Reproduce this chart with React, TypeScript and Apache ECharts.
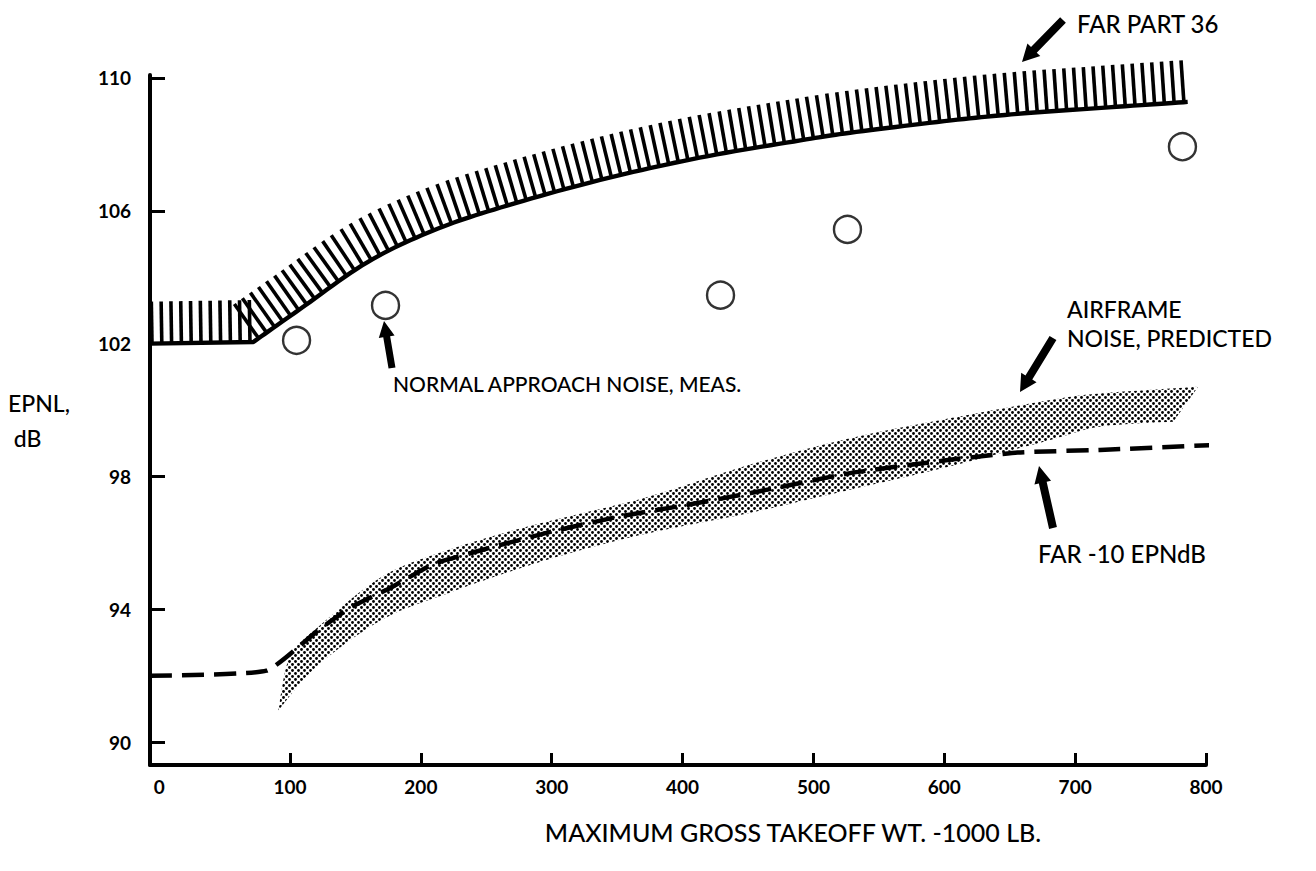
import React, { useEffect, useRef } from "react";
import * as echarts from "echarts";

// ---------- data ----------
const xTickValues = [0, 100, 200, 300, 400, 500, 600, 700, 800];
const xMinorTicks = [100, 200, 300, 400, 500, 600, 700, 800];
const yTickValues = [90, 94, 98, 102, 106, 110];

// FAR Part 36 limit (lower edge of the hatched band)
const farPart36X = [-7, 72, 108, 159, 209, 261, 337, 413, 490, 528, 600, 656, 720, 786];
const farPart36Y = [102, 102.05, 103.05, 104.45, 105.4, 106.1, 106.93, 107.6, 108.12, 108.35, 108.7, 108.92, 109.1, 109.28];

// FAR -10 EPNdB (dashed)
const far10X = [-7, 82, 121, 146, 177, 209, 248, 299, 350, 400, 452, 528, 604, 656, 719, 808];
const far10Y = [92, 92.15, 93.35, 94.05, 94.65, 95.35, 95.8, 96.33, 96.78, 97.12, 97.5, 98.1, 98.5, 98.72, 98.8, 98.95];

// Airframe noise, predicted (dotted band)
const bandUpperX = [91, 100, 121, 171, 222, 273, 324, 375, 451, 528, 604, 681, 719, 794];
const bandUpperY = [90.95, 92.6, 93.45, 95.0, 95.8, 96.4, 96.9, 97.4, 98.35, 99.15, 99.75, 100.3, 100.5, 100.7];
const bandLowerX = [91, 121, 171, 222, 273, 324, 375, 451, 528, 604, 681, 719, 775];
const bandLowerY = [90.95, 92.3, 93.7, 94.5, 95.2, 95.8, 96.3, 96.9, 97.6, 98.3, 99.1, 99.5, 99.65];

// Normal approach noise, measured
const measX = [105, 173, 429, 526, 782];
const measY = [102.1, 103.15, 103.46, 105.44, 107.93];

// ---------- helpers ----------
function catmull(pts: number[][], segs: number): number[][] {
  const out: number[][] = [];
  for (let i = 0; i < pts.length - 1; i++) {
    const p0 = pts[Math.max(0, i - 1)];
    const p1 = pts[i];
    const p2 = pts[i + 1];
    const p3 = pts[Math.min(pts.length - 1, i + 2)];
    for (let s = 0; s < segs; s++) {
      const t = s / segs;
      const t2 = t * t;
      const t3 = t2 * t;
      const f = (k: number) =>
        0.5 *
        (2 * p1[k] +
          (-p0[k] + p2[k]) * t +
          (2 * p0[k] - 5 * p1[k] + 4 * p2[k] - p3[k]) * t2 +
          (-p0[k] + 3 * p1[k] - 3 * p2[k] + p3[k]) * t3);
      out.push([f(0), f(1)]);
    }
  }
  out.push(pts[pts.length - 1]);
  return out;
}

function renderFar(params: any, api: any) {
  if (params.dataIndex !== 0) return null;
  const px = farPart36X.map((x, i) => api.coord([x, farPart36Y[i]]));
  const curve = [px[0]].concat(catmull(px.slice(1), 12));
  const children: any[] = [];
  children.push({
    type: "polyline",
    shape: { points: curve },
    style: { stroke: "#000", lineWidth: 4.4, fill: null, lineJoin: "round" },
  });
  const spacing = 9.8;
  const hatchLen = 42;
  let next = 2;
  let acc = 0;
  for (let i = 0; i < curve.length - 1; i++) {
    const a = curve[i];
    const b = curve[i + 1];
    const dx = b[0] - a[0];
    const dy = b[1] - a[1];
    const len = Math.hypot(dx, dy);
    if (len === 0) continue;
    const tx = dx / len;
    const ty = dy / len;
    const nx = ty;
    const ny = -tx;
    while (next <= acc + len) {
      const u = (next - acc) / len;
      const x = a[0] + dx * u;
      const y = a[1] + dy * u;
      children.push({
        type: "line",
        shape: { x1: x, y1: y, x2: x + nx * hatchLen, y2: y + ny * hatchLen },
        style: { stroke: "#000", lineWidth: 3.6 },
      });
      next += spacing;
    }
    acc += len;
  }
  return { type: "group", children };
}

function dotPattern() {
  const c = document.createElement("canvas");
  c.width = 6;
  c.height = 6;
  const ctx = c.getContext("2d");
  if (ctx) {
    ctx.fillStyle = "#000";
    [
      [1.5, 1.5],
      [4.5, 4.5],
    ].forEach(([x, y]) => {
      ctx.beginPath();
      ctx.arc(x, y, 1.4, 0, Math.PI * 2);
      ctx.fill();
    });
  }
  return { image: c.toDataURL(), repeat: "repeat", imageWidth: 6, imageHeight: 6 };
}

function renderBand(params: any, api: any) {
  if (params.dataIndex !== 0) return null;
  const up = bandUpperX.map((x, i) => api.coord([x, bandUpperY[i]]));
  const lo = bandLowerX.map((x, i) => api.coord([x, bandLowerY[i]]));
  const upS = catmull(up, 8);
  const loS = catmull(lo, 8);
  const pts = upS.concat(loS.slice(1).reverse());
  return {
    type: "polygon",
    shape: { points: pts },
    style: { fill: dotPattern() as any, stroke: null },
  };
}

function arrow(tail: number[], tip: number[], shaftW = 8, headW = 18, headL = 17) {
  const dx = tip[0] - tail[0];
  const dy = tip[1] - tail[1];
  const L = Math.hypot(dx, dy);
  const ux = dx / L;
  const uy = dy / L;
  const px = -uy;
  const py = ux;
  const bx = tip[0] - ux * headL;
  const by = tip[1] - uy * headL;
  const s = shaftW / 2;
  const h = headW / 2;
  return {
    type: "polygon",
    z: 100,
    shape: {
      points: [
        [tail[0] + px * s, tail[1] + py * s],
        [bx + px * s, by + py * s],
        [bx + px * h, by + py * h],
        [tip[0], tip[1]],
        [bx - px * h, by - py * h],
        [bx - px * s, by - py * s],
        [tail[0] - px * s, tail[1] - py * s],
      ],
    },
    style: { fill: "#000" },
  };
}

const FONT = "Lato";

function label(text: string, x: number, y: number, size = 21, lineHeight?: number) {
  return {
    type: "text",
    z: 100,
    x,
    y,
    style: {
      text,
      fill: "#000",
      font: `500 ${size}px ${FONT}`,
      align: "left",
      verticalAlign: "middle",
      lineHeight: lineHeight || size + 4,
    },
  };
}

export default function App() {
  const ref = useRef<HTMLDivElement>(null);
  useEffect(() => {
    document.body.style.margin = "0";
    const chart = echarts.init(ref.current as HTMLDivElement, null, { renderer: "svg" });
    const option: any = {
      animation: false,
      backgroundColor: "#fff",
      grid: { left: 150, right: 110, top: 75, bottom: 106, containLabel: false },
      xAxis: {
        type: "value",
        min: -7,
        max: 800,
        name: "MAXIMUM GROSS TAKEOFF WT. -1000 LB.",
        nameLocation: "middle",
        nameGap: 67,
        nameTextStyle: {
          fontFamily: FONT,
          fontSize: 25,
          fontWeight: 500,
          color: "#000",
          verticalAlign: "middle",
          padding: [0, 0, 0, 230],
        },
        axisLine: { show: true, onZero: false, lineStyle: { color: "#000", width: 4 } },
        axisTick: {
          show: true,
          inside: true,
          length: 12,
          customValues: xMinorTicks,
          lineStyle: { color: "#000", width: 3 },
        },
        axisLabel: {
          customValues: xTickValues,
          margin: 12,
          fontFamily: FONT,
          fontWeight: "bold",
          fontSize: 19,
          color: "#000",
        },
        splitLine: { show: false },
      },
      yAxis: {
        type: "value",
        min: 89.31,
        max: 110.09,
        name: "EPNL,\n dB",
        nameLocation: "middle",
        nameRotate: 0,
        nameGap: 142,
        nameTextStyle: {
          fontFamily: FONT,
          fontSize: 23,
          fontWeight: 500,
          color: "#000",
          align: "left",
          verticalAlign: "middle",
          lineHeight: 35,
          padding: [0, 0, 14, 0],
        },
        axisLine: { show: true, onZero: false, lineStyle: { color: "#000", width: 4 } },
        axisTick: {
          show: true,
          inside: true,
          length: 15,
          customValues: yTickValues,
          lineStyle: { color: "#000", width: 3 },
        },
        axisLabel: {
          customValues: yTickValues,
          margin: 19,
          fontFamily: FONT,
          fontWeight: "bold",
          fontSize: 19,
          color: "#000",
        },
        splitLine: { show: false },
      },
      series: [
        {
          name: "AIRFRAME NOISE, PREDICTED",
          type: "custom",
          renderItem: renderBand,
          clip: false,
          data: bandUpperX.map((x, i) => [x, bandUpperY[i]]),
          encode: { x: 0, y: 1 },
          z: 1,
        },
        {
          name: "FAR -10 EPNdB",
          type: "line",
          data: far10X.map((x, i) => [x, far10Y[i]]),
          showSymbol: false,
          symbol: "none",
          smooth: 0.15,
          clip: false,
          lineStyle: { color: "#000", width: 4.5, type: [22, 10], cap: "butt" },
          z: 3,
        },
        {
          name: "FAR PART 36",
          type: "custom",
          renderItem: renderFar,
          clip: false,
          data: farPart36X.map((x, i) => [x, farPart36Y[i]]),
          encode: { x: 0, y: 1 },
          z: 4,
        },
        {
          name: "NORMAL APPROACH NOISE, MEAS.",
          type: "scatter",
          data: measX.map((x, i) => [x, measY[i]]),
          symbol: "circle",
          symbolSize: 27,
          itemStyle: { color: "rgba(255,255,255,0)", borderColor: "#000", borderWidth: 2.4 },
          z: 5,
        },
      ],
      graphic: [
        arrow([1063, 20], [1022, 62], 8, 18, 17),
        label("FAR PART 36", 1077, 23, 24),
        arrow([392, 368], [384, 321], 7, 16, 16),
        label("NORMAL APPROACH NOISE, MEAS.", 393, 383, 21),
        arrow([1053, 338], [1020, 392], 8, 18, 17),
        label("AIRFRAME", 1067, 309, 23),
        label("NOISE, PREDICTED", 1067, 338, 23),
        arrow([1053, 528], [1039, 466], 8, 17, 17),
        label("FAR -10 EPNdB", 1038, 553, 24),
      ],
    };
    chart.setOption(option);
    return () => chart.dispose();
  }, []);
  return <div ref={ref} style={{ width: 1316, height: 871 }} />;
}
